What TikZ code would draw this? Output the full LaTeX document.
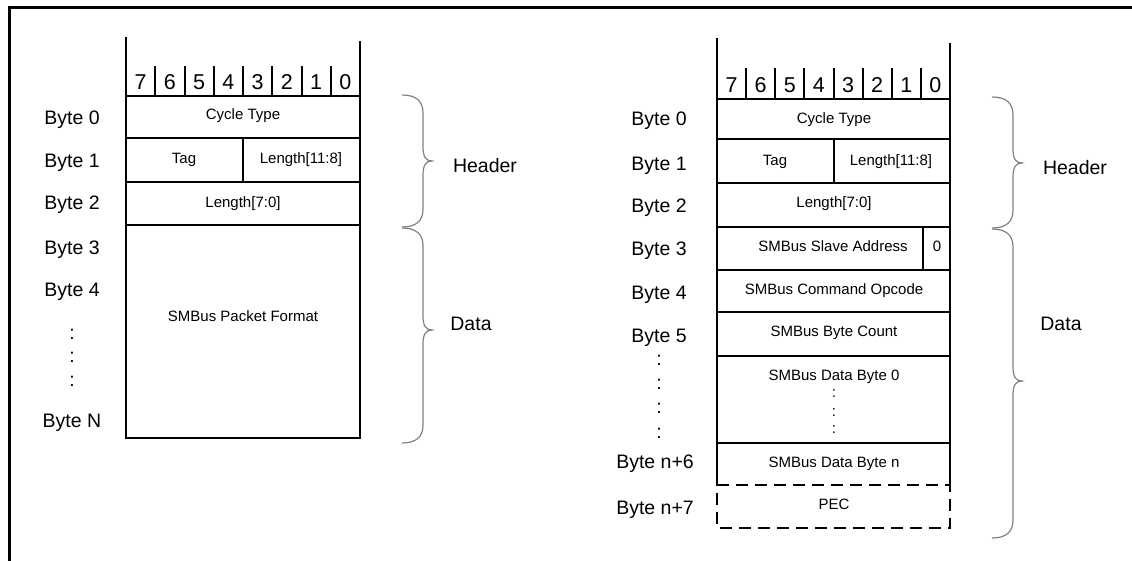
\documentclass[tikz,border=0pt]{standalone}
\usepackage{fontspec}
\setmainfont{Liberation Sans}
\tikzset{>=stealth}
\tikzset{
  cell/.style={line width=2pt},
  pec/.style={line width=2pt, dash pattern=on 12pt off 7pt},
  brc/.style={draw=black!50, line width=1.2pt},
  bit/.style={font=\fontsize{21.5}{24}\selectfont, text height=15.4pt, text depth=0pt, inner sep=0pt},
  lbl/.style={font=\fontsize{19.5}{22}\selectfont, text height=14pt, text depth=0pt, inner sep=0pt},
  fld/.style={font=\fontsize{15}{17}\selectfont, text height=10.8pt, text depth=0pt, inner sep=0pt}
}
\newcommand{\packetbrace}[4]{%
  \draw[brc] (#1,#2) .. controls +(14,0) and +(0,-12) .. (#1+21,#2+18)
    -- (#1+21,#4-14) .. controls +(0,10) and +(-6,0) .. (#1+30,#4)
    .. controls +(-6,0) and +(0,-10) .. (#1+21,#4+14)
    -- (#1+21,#3-18) .. controls +(0,12) and +(14,0) .. (#1,#3);}

\begin{document}
\begin{tikzpicture}[x=1pt, y=-1pt]
    \useasboundingbox (0,0) rectangle (1132,560);
    \draw[line width=3pt] (9,565) -- (9,7) -- (1140,7);

    \draw[cell] (126,37) -- (126,438) -- (360,438) -- (360,41);
    \foreach \y in {96,138,182,225} \draw[cell] (126,\y) -- (360,\y);
    \draw[cell] (243,138) -- (243,182);
    \foreach \i in {1,...,7} \draw[cell] ({126+29.25*\i},66) -- ({126+29.25*\i},96);
    \foreach \b [count=\i] in {7,6,...,0} \node[bit] (lbit\b) at ({126+29.25*\i-14.6},82) {\b};
    \foreach \n/\y in {0/117,1/160,2/202,3/247,4/289} \node[lbl] (lbyte\n) at (72,\y) {Byte \n};
    \foreach \y [count=\i] in {332,355,379} \node[lbl] (ldot\i) at (72,\y) {:};
    \node[lbl] (lbyteN) at (72,420) {Byte N};
    \node[fld] (lcyc) at (243,114) {Cycle Type};
    \node[fld] (ltag) at (184,158) {Tag};
    \node[fld] (llenhi) at (301,158) {Length[11:8]};
    \node[fld] (llenlo) at (243,202) {Length[7:0]};
    \node[fld] (lsmb) at (243,316) {SMBus Packet Format};
    \packetbrace{402}{95}{227}{161}
    \packetbrace{402}{228}{443}{330}
    \node[lbl] (lhead) at (485,165) {Header};
    \node[lbl] (ldata) at (471,323) {Data};

    \draw[cell] (717,38) -- (717,485);
    \draw[cell] (950,43) -- (950,485);
    \foreach \y in {99,139,183,227,270,312,356,443} \draw[cell] (717,\y) -- (950,\y);
    \draw[cell] (834,139) -- (834,183);
    \draw[cell] (923,227) -- (923,270);
    \draw[pec] (717,485) -- (950,485) -- (950,528) -- (717,528) -- cycle;
    \foreach \i in {1,...,7} \draw[cell] ({717+29.125*\i},68) -- ({717+29.125*\i},99);
    \foreach \b [count=\i] in {7,6,...,0} \node[bit] (rbit\b) at ({717+29.125*\i-14.6},85) {\b};
    \foreach \n/\y in {0/118,1/163,2/205,3/248,4/292,5/335} \node[lbl] (rbyte\n) at (659,\y) {Byte \n};
    \foreach \y [count=\i] in {358,382,406,431} \node[lbl] (rdot\i) at (659,\y) {:};
    \node[lbl] (rbyte6) at (655,461) {Byte n+6};
    \node[lbl] (rbyte7) at (655,507) {Byte n+7};
    \node[fld] (rcyc) at (834,118) {Cycle Type};
    \node[fld] (rtag) at (775,160) {Tag};
    \node[fld] (rlenhi) at (891,160) {Length[11:8]};
    \node[fld] (rlenlo) at (834,202) {Length[7:0]};
    \node[fld] (raddr) at (833,246) {SMBus Slave Address};
    \node[fld] (rzero) at (937,246) {0};
    \node[fld] (rcmd) at (834,289) {SMBus Command Opcode};
    \node[fld] (rcnt) at (834,331) {SMBus Byte Count};
    \node[fld] (rdat0) at (834,375) {SMBus Data Byte 0};
    \foreach \y [count=\i] in {392,411,428} \node[fld] (rddot\i) at (834,\y) {:};
    \node[fld] (rdatn) at (834,462) {SMBus Data Byte n};
    \node[fld] (rpec) at (834,504) {PEC};
    \packetbrace{992}{97}{228}{163}
    \packetbrace{992}{229}{538}{381}
    \node[lbl] (rhead) at (1075,167) {Header};
    \node[lbl] (rdata) at (1061,323) {Data};
\end{tikzpicture}
\end{document}
